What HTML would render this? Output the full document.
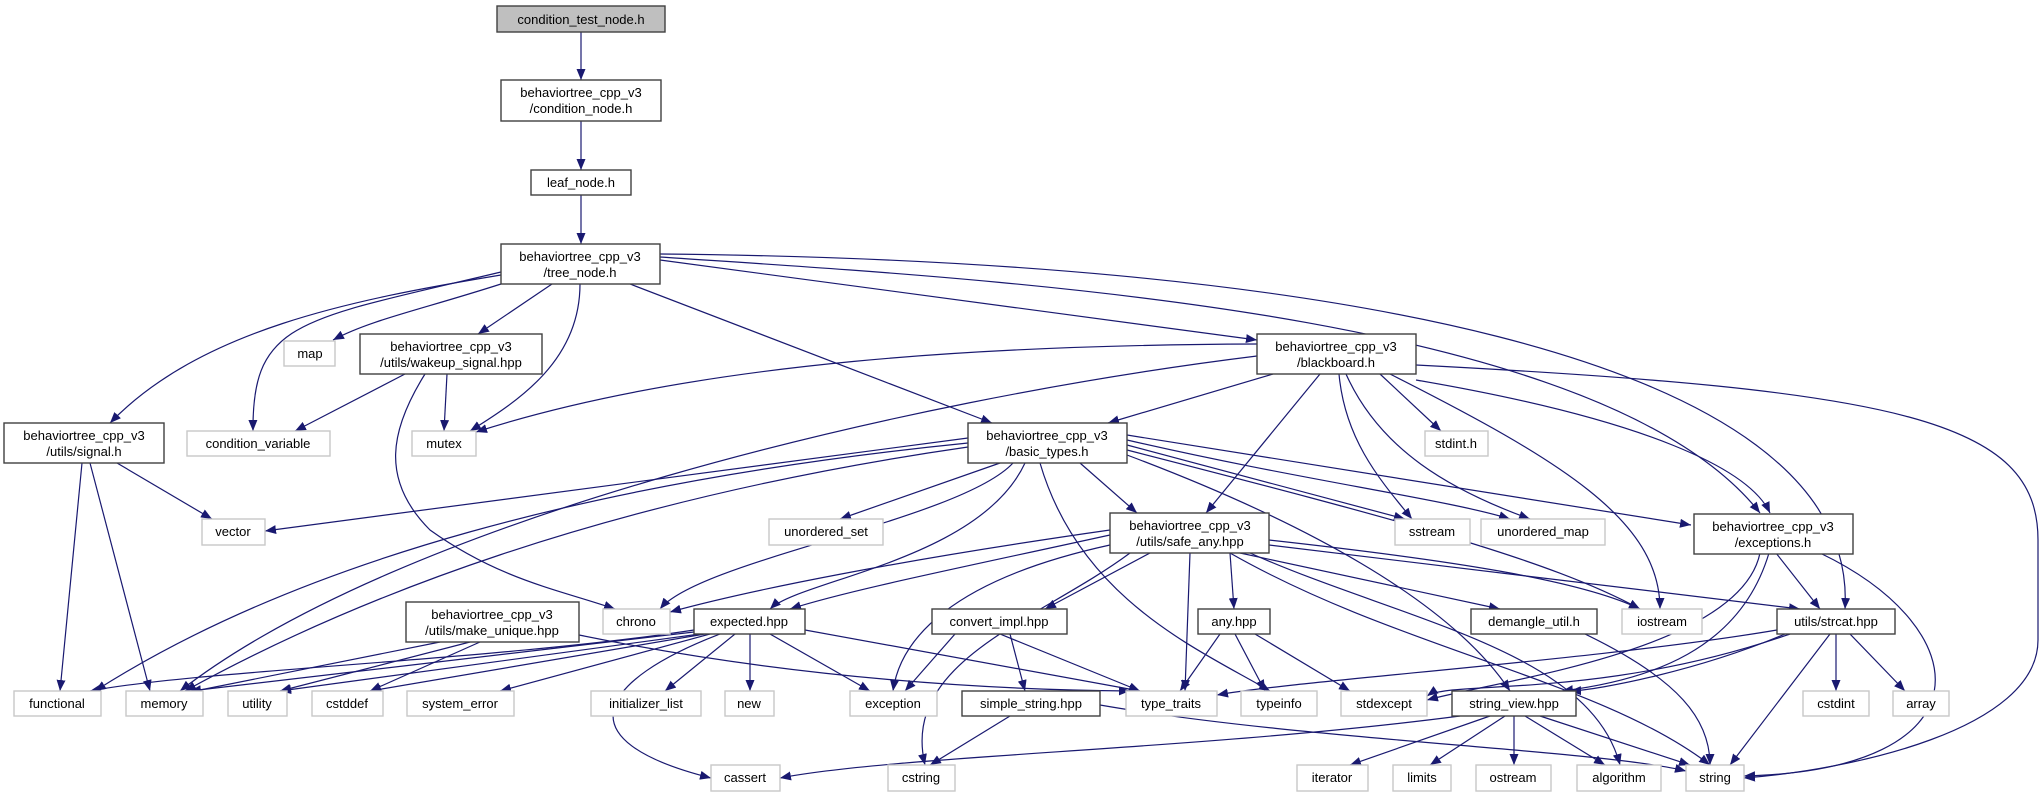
<!DOCTYPE html>
<html><head><meta charset="utf-8"><style>
html,body{margin:0;padding:0;background:#fff;}
svg{display:block;}
text{font-family:"Liberation Sans","DejaVu Sans",sans-serif;font-size:13px;fill:#000;text-anchor:middle;}
.b{fill:#fff;stroke:#404040;stroke-width:1.4;}
.g{fill:#fff;stroke:#c8c8c8;stroke-width:1.4;}
.e{fill:none;stroke:#191970;stroke-width:1.2;marker-end:url(#a);}
</style></head><body>
<svg width="2043" height="797" viewBox="0 0 2043 797" xmlns="http://www.w3.org/2000/svg">
<defs><marker id="a" markerUnits="userSpaceOnUse" markerWidth="11" markerHeight="9" viewBox="0 0 11 9" refX="11" refY="4.5" orient="auto"><path d="M0,0 L11,4.5 L0,9z" fill="#191970"/></marker></defs>

<g>
<path class="e" d="M581,32 L581,80"/>
<path class="e" d="M581,121 L581,170"/>
<path class="e" d="M581,195 L581,244"/>
<path class="e" d="M501,275 C350,300 200,330 110,423"/>
<path class="e" d="M501,272 C300,320 252,320 253,431"/>
<path class="e" d="M501,284 C420,310 370,320 333,340"/>
<path class="e" d="M552,284 L478,334"/>
<path class="e" d="M580,284 C580,360 520,400 470,431"/>
<path class="e" d="M630,284 L992,423"/>
<path class="e" d="M660,260 L1257,340"/>
<path class="e" d="M660,257 C1000,280 1600,310 1760,513"/>
<path class="e" d="M660,254 C1300,260 1860,350 1845,609"/>
<path class="e" d="M405,374 L295,431"/>
<path class="e" d="M447,374 L444,431"/>
<path class="e" d="M425,374 C390,430 380,480 430,530 C500,580 560,590 615,609"/>
<path class="e" d="M117,463 L212,519"/>
<path class="e" d="M82,463 L60,691"/>
<path class="e" d="M90,463 L150,691"/>
<path class="e" d="M1257,344 C1000,345 700,360 476,432"/>
<path class="e" d="M1257,356 C900,400 400,520 180,691"/>
<path class="e" d="M1273,374 L1108,423"/>
<path class="e" d="M1320,374 L1206,513"/>
<path class="e" d="M1380,374 L1441,431"/>
<path class="e" d="M1339,374 C1345,440 1380,480 1412,519"/>
<path class="e" d="M1346,374 C1380,450 1450,490 1530,519"/>
<path class="e" d="M1390,374 C1560,460 1660,520 1660,609"/>
<path class="e" d="M1416,380 C1650,420 1750,470 1770,513"/>
<path class="e" d="M1416,365 C1900,390 2038,420 2038,540 L2038,640 C2038,730 1850,770 1744,778"/>
<path class="e" d="M968,438 L265,531"/>
<path class="e" d="M968,443 C600,480 300,560 95,691"/>
<path class="e" d="M968,447 C600,500 350,600 185,691"/>
<path class="e" d="M1000,463 L840,519"/>
<path class="e" d="M1013,463 C960,520 700,560 660,609"/>
<path class="e" d="M1025,463 C980,560 800,580 770,609"/>
<path class="e" d="M1080,463 L1137,513"/>
<path class="e" d="M1040,463 C1080,600 1200,650 1270,691"/>
<path class="e" d="M1127,445 L1405,519"/>
<path class="e" d="M1127,440 C1300,480 1450,500 1510,519"/>
<path class="e" d="M1127,435 L1691,525"/>
<path class="e" d="M1127,450 C1400,520 1550,560 1640,609"/>
<path class="e" d="M1127,455 C1300,520 1450,600 1510,691"/>
<path class="e" d="M1110,530 C900,560 750,590 670,612"/>
<path class="e" d="M1110,535 C950,570 850,590 790,609"/>
<path class="e" d="M1150,553 L1045,609"/>
<path class="e" d="M1230,553 L1234,609"/>
<path class="e" d="M1240,553 L1500,609"/>
<path class="e" d="M1269,545 L1800,609"/>
<path class="e" d="M1269,540 C1450,560 1580,580 1640,609"/>
<path class="e" d="M1110,545 C950,580 900,640 893,691"/>
<path class="e" d="M1190,553 L1185,691"/>
<path class="e" d="M1130,553 C1040,620 900,660 925,765"/>
<path class="e" d="M1230,553 C1400,650 1600,680 1710,765"/>
<path class="e" d="M1250,553 C1400,620 1590,650 1620,765"/>
<path class="e" d="M694,630 C500,660 200,670 90,691"/>
<path class="e" d="M694,632 L190,691"/>
<path class="e" d="M700,634 L280,691"/>
<path class="e" d="M705,634 L370,691"/>
<path class="e" d="M710,634 L500,691"/>
<path class="e" d="M735,634 L665,691"/>
<path class="e" d="M750,634 L750,691"/>
<path class="e" d="M770,634 L870,691"/>
<path class="e" d="M805,630 L1140,691"/>
<path class="e" d="M720,634 C600,680 560,740 711,778"/>
<path class="e" d="M440,642 L190,692"/>
<path class="e" d="M470,642 L280,691"/>
<path class="e" d="M480,642 L370,691"/>
<path class="e" d="M579,635 C800,680 1000,690 1130,691"/>
<path class="e" d="M955,634 L905,691"/>
<path class="e" d="M1000,634 L1140,691"/>
<path class="e" d="M1010,634 L1025,691"/>
<path class="e" d="M1220,634 L1180,691"/>
<path class="e" d="M1235,634 L1265,691"/>
<path class="e" d="M1255,634 L1350,691"/>
<path class="e" d="M1585,634 C1680,680 1710,720 1710,765"/>
<path class="e" d="M1777,630 C1600,660 1300,680 1217,695"/>
<path class="e" d="M1790,634 C1600,700 1450,680 1427,696"/>
<path class="e" d="M1785,634 C1700,670 1600,690 1570,691"/>
<path class="e" d="M1836,634 L1836,691"/>
<path class="e" d="M1850,634 L1905,691"/>
<path class="e" d="M1830,634 L1730,765"/>
<path class="e" d="M1776,553 L1820,609"/>
<path class="e" d="M1760,553 C1740,650 1500,680 1427,700"/>
<path class="e" d="M1769,553 C1740,650 1650,680 1562,691"/>
<path class="e" d="M1820,553 C1980,630 1990,770 1744,776"/>
<path class="e" d="M1010,716 L930,765"/>
<path class="e" d="M1100,705 C1300,740 1600,750 1686,771"/>
<path class="e" d="M1460,716 C1200,750 900,755 780,778"/>
<path class="e" d="M1490,716 L1350,765"/>
<path class="e" d="M1505,716 L1430,765"/>
<path class="e" d="M1514,716 L1514,765"/>
<path class="e" d="M1525,716 L1605,765"/>
<path class="e" d="M1540,716 L1690,765"/>
</g>

<g>
<rect x="497" y="6" width="168" height="26" fill="#bfbfbf" stroke="#404040" stroke-width="1.4"/><text x="581" y="24">condition_test_node.h</text>
<rect class="b" x="501" y="80" width="160" height="41"/><text x="581" y="97">behaviortree_cpp_v3</text><text x="581" y="113">/condition_node.h</text>
<rect class="b" x="531" y="170" width="100" height="25"/><text x="581" y="187">leaf_node.h</text>
<rect class="b" x="501" y="244" width="159" height="40"/><text x="580" y="261">behaviortree_cpp_v3</text><text x="580" y="277">/tree_node.h</text>
<rect class="g" x="284" y="341" width="51" height="25"/><text x="310" y="358">map</text>
<rect class="b" x="360" y="334" width="182" height="40"/><text x="451" y="351">behaviortree_cpp_v3</text><text x="451" y="367">/utils/wakeup_signal.hpp</text>
<rect class="b" x="1257" y="334" width="159" height="40"/><text x="1336" y="351">behaviortree_cpp_v3</text><text x="1336" y="367">/blackboard.h</text>
<rect class="g" x="187" y="431" width="143" height="25"/><text x="258" y="448">condition_variable</text>
<rect class="g" x="412" y="431" width="64" height="25"/><text x="444" y="448">mutex</text>
<rect class="b" x="4" y="423" width="160" height="40"/><text x="84" y="440">behaviortree_cpp_v3</text><text x="84" y="456">/utils/signal.h</text>
<rect class="b" x="968" y="423" width="159" height="40"/><text x="1047" y="440">behaviortree_cpp_v3</text><text x="1047" y="456">/basic_types.h</text>
<rect class="g" x="1425" y="431" width="63" height="25"/><text x="1456" y="448">stdint.h</text>
<rect class="g" x="202" y="519" width="63" height="26"/><text x="233" y="536">vector</text>
<rect class="g" x="769" y="519" width="114" height="26"/><text x="826" y="536">unordered_set</text>
<rect class="b" x="1110" y="513" width="159" height="40"/><text x="1190" y="530">behaviortree_cpp_v3</text><text x="1190" y="546">/utils/safe_any.hpp</text>
<rect class="g" x="1395" y="519" width="75" height="26"/><text x="1432" y="536">sstream</text>
<rect class="g" x="1481" y="519" width="124" height="26"/><text x="1543" y="536">unordered_map</text>
<rect class="b" x="1694" y="514" width="159" height="40"/><text x="1773" y="531">behaviortree_cpp_v3</text><text x="1773" y="547">/exceptions.h</text>
<rect class="g" x="603" y="609" width="67" height="25"/><text x="636" y="626">chrono</text>
<rect class="g" x="1622" y="609" width="80" height="25"/><text x="1662" y="626">iostream</text>
<rect class="b" x="406" y="602" width="173" height="40"/><text x="492" y="619">behaviortree_cpp_v3</text><text x="492" y="635">/utils/make_unique.hpp</text>
<rect class="b" x="694" y="609" width="111" height="25"/><text x="749" y="626">expected.hpp</text>
<rect class="b" x="932" y="609" width="135" height="25"/><text x="999" y="626">convert_impl.hpp</text>
<rect class="b" x="1198" y="609" width="72" height="25"/><text x="1234" y="626">any.hpp</text>
<rect class="b" x="1471" y="609" width="126" height="25"/><text x="1534" y="626">demangle_util.h</text>
<rect class="b" x="1777" y="609" width="118" height="25"/><text x="1836" y="626">utils/strcat.hpp</text>
<rect class="g" x="14" y="691" width="87" height="25"/><text x="57" y="708">functional</text>
<rect class="g" x="126" y="691" width="77" height="25"/><text x="164" y="708">memory</text>
<rect class="g" x="228" y="691" width="59" height="25"/><text x="257" y="708">utility</text>
<rect class="g" x="312" y="691" width="71" height="25"/><text x="347" y="708">cstddef</text>
<rect class="g" x="407" y="691" width="107" height="25"/><text x="460" y="708">system_error</text>
<rect class="g" x="591" y="691" width="110" height="25"/><text x="646" y="708">initializer_list</text>
<rect class="g" x="725" y="691" width="49" height="25"/><text x="749" y="708">new</text>
<rect class="g" x="850" y="691" width="87" height="25"/><text x="893" y="708">exception</text>
<rect class="b" x="962" y="691" width="138" height="25"/><text x="1031" y="708">simple_string.hpp</text>
<rect class="g" x="1126" y="691" width="91" height="25"/><text x="1171" y="708">type_traits</text>
<rect class="g" x="1241" y="691" width="76" height="25"/><text x="1279" y="708">typeinfo</text>
<rect class="g" x="1341" y="691" width="86" height="25"/><text x="1384" y="708">stdexcept</text>
<rect class="b" x="1452" y="691" width="124" height="25"/><text x="1514" y="708">string_view.hpp</text>
<rect class="g" x="1803" y="691" width="66" height="25"/><text x="1836" y="708">cstdint</text>
<rect class="g" x="1893" y="691" width="56" height="25"/><text x="1921" y="708">array</text>
<rect class="g" x="711" y="765" width="69" height="26"/><text x="745" y="782">cassert</text>
<rect class="g" x="888" y="765" width="67" height="26"/><text x="921" y="782">cstring</text>
<rect class="g" x="1297" y="765" width="71" height="26"/><text x="1332" y="782">iterator</text>
<rect class="g" x="1393" y="765" width="58" height="26"/><text x="1422" y="782">limits</text>
<rect class="g" x="1476" y="765" width="75" height="26"/><text x="1513" y="782">ostream</text>
<rect class="g" x="1577" y="765" width="84" height="26"/><text x="1619" y="782">algorithm</text>
<rect class="g" x="1686" y="765" width="58" height="26"/><text x="1715" y="782">string</text>
</g>
</svg>
</body></html>
